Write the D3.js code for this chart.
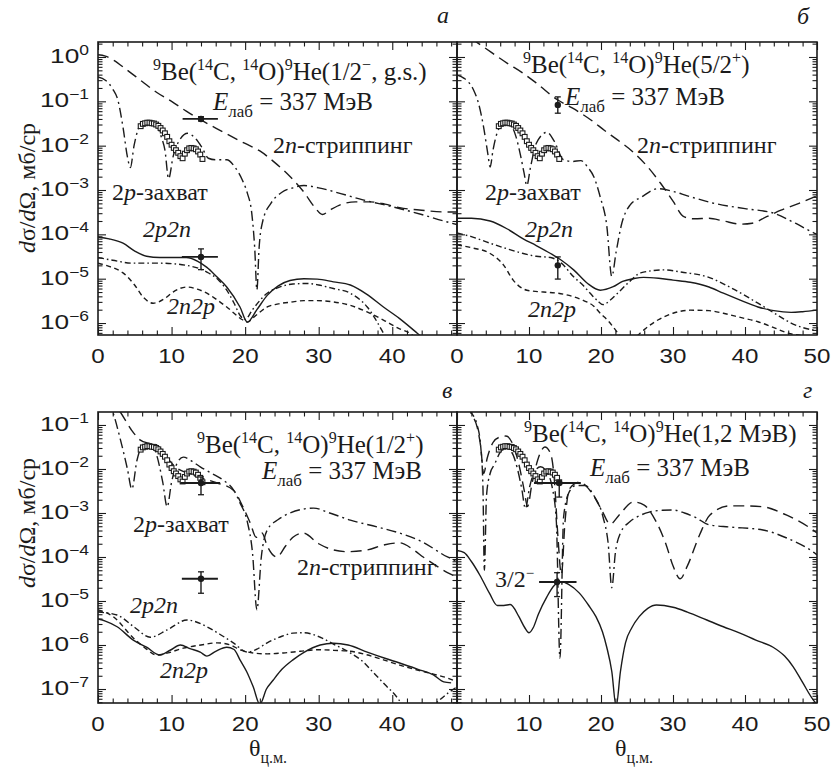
<!DOCTYPE html>
<html><head><meta charset="utf-8">
<script src="https://cdn.jsdelivr.net/npm/d3@7"></script>
<style>
body{margin:0;background:#fff}
svg{display:block}
.serif{font-family:"Liberation Serif","Tinos","DejaVu Serif","Noto Serif",serif}
.sans{font-family:"Liberation Sans","Arimo","DejaVu Sans",sans-serif}
</style></head><body>
<svg id="chart" width="832" height="771"></svg>
<script>
// ================= DATA =================
// experimental angular distribution (open squares), same in all panels
const expTheta = [5.8, 6.1, 6.4, 6.7, 7.0, 7.3, 7.6, 7.9, 8.2, 8.5, 8.8, 9.1, 9.4, 9.7, 10.0, 10.3, 10.6, 10.9, 11.2, 11.5, 11.8, 12.1, 12.4, 12.7, 13.0, 13.3, 13.6, 13.9, 14.2];
const expSigma = [0.0275, 0.031, 0.032, 0.033, 0.033, 0.032, 0.0316, 0.030, 0.028, 0.025, 0.022, 0.019, 0.0158, 0.0126, 0.0105, 0.0089, 0.0079, 0.0069, 0.0058, 0.0052, 0.0066, 0.0079, 0.0087, 0.0089, 0.0087, 0.0083, 0.0074, 0.0063, 0.0050];

// filled points with error bars
const ptPanel = ['a', 'a', 'b', 'b', 'c', 'c', 'd', 'd'];
const ptTheta = [14, 14, 14, 14, 14, 14, 14.2, 13.9];
const ptSigma = [0.040, 3.1e-5, 0.083, 2.0e-5, 0.0048, 3.2e-5, 0.0048, 2.7e-5];
const ptThetaLo = [11.5, 11.4, null, null, 11.2, 11.4, 10.7, 11.4];
const ptThetaHi = [16.3, 16.3, null, null, 16.6, 16.3, 17.2, 16.6];
const ptSigmaLo = [0.036, 1.6e-5, 0.054, 9.8e-6, 0.0026, 1.5e-5, 0.0023, 1.26e-5];
const ptSigmaHi = [0.045, 4.7e-5, 0.126, 3.1e-5, 0.0066, 4.6e-5, 0.0048, 4.4e-5];

// ---- panel a : 9He(1/2-, g.s.) ----
const aStripTheta = [0, 1, 2, 4, 6, 8, 10, 12, 14, 16, 18, 20, 22, 24, 26, 28, 29.5, 30.5, 31.5, 33, 35, 37, 39, 41, 44, 47, 48.8];
const aStripSigma = [1.12, 1.05, 0.87, 0.50, 0.28, 0.158, 0.10, 0.060, 0.038, 0.025, 0.0166, 0.0112, 0.0076, 0.0042, 0.0021, 8.9e-4, 4.0e-4, 2.8e-4, 3.5e-4, 4.7e-4, 5.4e-4, 5.4e-4, 4.8e-4, 4.0e-4, 3.5e-4, 3.2e-4, 3.2e-4];
const aCaptTheta = [0, 1, 2, 2.7, 3.4, 4.0, 4.4, 4.9, 5.4, 6.0, 7.0, 8.0, 8.6, 9.1, 9.6, 10.2, 11.0, 12.2, 13.2, 14.1, 15.0, 16.0, 17.5, 18.6, 19.6, 20.3, 20.9, 21.3, 21.6, 21.9, 22.4, 23.5, 25, 26.5, 28, 30, 33, 36, 40, 44, 47, 48.8];
const aCaptSigma = [0.355, 0.30, 0.19, 0.107, 0.026, 0.0056, 0.0032, 0.010, 0.022, 0.032, 0.035, 0.028, 0.0158, 0.0079, 0.0018, 0.0056, 0.0126, 0.019, 0.0148, 0.0093, 0.0052, 0.0048, 0.0048, 0.0033, 0.0017, 8.5e-4, 3.0e-4, 5.0e-5, 5.6e-6, 5.0e-5, 2.0e-4, 5.0e-4, 8.9e-4, 1.12e-3, 1.26e-3, 1.12e-3, 8.3e-4, 6.0e-4, 4.2e-4, 2.8e-4, 2.0e-4, 1.66e-4];
const aSumTheta = [0, 1.5, 3.4, 5, 6.6, 8.4, 10, 12, 13.5, 14.8, 16, 17.5, 19.3, 20.3, 21.6, 23, 24.5, 26.1, 28, 29.8, 32, 34.3, 36.5, 38.8, 41, 43.4, 45, 47];
const aSumSigma = [8.7e-5, 7.9e-5, 6.3e-5, 4.2e-5, 3.2e-5, 3.0e-5, 3.0e-5, 3.0e-5, 2.5e-5, 1.8e-5, 1.17e-5, 6.5e-6, 2.3e-6, 1.05e-6, 2.0e-6, 4.2e-6, 6.9e-6, 9.1e-6, 1.0e-5, 9.8e-6, 8.5e-6, 7.2e-6, 4.5e-6, 2.3e-6, 1.26e-6, 5.9e-7, 3.5e-7, 2.0e-7];
const aP2nTheta = [0, 2, 4.8, 8.4, 12, 14.8, 16.5, 17.5, 18.5, 19.3, 20.0, 21, 23, 24.5, 26.5, 28.5, 30, 32, 34.3, 36.6, 38.8, 40];
const aP2nSigma = [3.0e-5, 2.6e-5, 2.24e-5, 2.24e-5, 2.0e-5, 1.41e-5, 8.9e-6, 5.5e-6, 2.8e-6, 1.5e-6, 1.2e-6, 2.0e-6, 4.7e-6, 6.3e-6, 7.6e-6, 7.8e-6, 7.2e-6, 6.0e-6, 4.7e-6, 2.3e-6, 5.9e-7, 2.5e-7];
const aN2pTheta = [0, 1.5, 3.4, 5, 6.1, 7.5, 9, 10.2, 12.1, 13.5, 14.8, 16, 17.5, 19.7, 20.3, 21.3, 23, 24.5, 26.5, 28, 29.8, 32, 34.3, 36.5, 38.8, 41, 42.4, 43.5];
const aN2pSigma = [2.24e-5, 1.9e-5, 1.35e-5, 7.1e-6, 3.9e-6, 2.8e-6, 3.5e-6, 5.0e-6, 6.5e-6, 5.8e-6, 4.7e-6, 3.5e-6, 2.3e-6, 1.17e-6, 1.05e-6, 1.41e-6, 2.3e-6, 2.7e-6, 3.0e-6, 3.2e-6, 3.2e-6, 3.0e-6, 2.5e-6, 1.8e-6, 1.17e-6, 7.4e-7, 5.9e-7, 4.0e-7];

// ---- panel b : 9He(5/2+) ----
const bStripTheta = [0, 2, 4, 7, 9, 11, 14, 16, 18.6, 20.5, 22.3, 24.5, 26.5, 28.3, 30, 31.5, 33, 35, 37, 39.5, 41, 43, 45, 47.5, 50];
const bStripSigma = [4.3, 2.6, 1.55, 0.72, 0.45, 0.26, 0.107, 0.071, 0.038, 0.022, 0.0135, 0.0071, 0.0033, 0.0014, 5.6e-4, 2.5e-4, 2.24e-4, 2.3e-4, 2.0e-4, 1.7e-4, 1.78e-4, 2.5e-4, 3.5e-4, 5.0e-4, 7.4e-4];
const bCaptTheta = [0, 1, 2.3, 3.0, 3.7, 4.3, 4.6, 5.0, 5.6, 6.4, 7.5, 8.2, 8.8, 9.3, 9.7, 10.2, 11, 12.5, 13.5, 14.8, 16, 17.2, 18.2, 19, 19.9, 20.8, 21.5, 22.1, 22.9, 24, 25.6, 27.9, 30, 32, 35.5, 40, 44, 47, 49.6, 50];
const bCaptSigma = [0.39, 0.33, 0.18, 0.089, 0.026, 0.0063, 0.0033, 0.0079, 0.020, 0.030, 0.028, 0.0158, 0.0063, 0.0025, 0.00126, 0.0032, 0.0112, 0.020, 0.0126, 0.0048, 0.0044, 0.0046, 0.0032, 0.0020, 6.9e-4, 1.58e-4, 1.12e-5, 4.0e-5, 1.8e-4, 4.5e-4, 6.9e-4, 1.07e-3, 9.3e-4, 7.4e-4, 5.1e-4, 3.8e-4, 3.0e-4, 1.78e-4, 1.07e-4, 1.0e-4];
const bSumTheta = [0, 2, 4.6, 7, 9.2, 11, 13, 14.5, 16.2, 18.1, 19.9, 21.7, 23, 24.5, 25.9, 28, 30, 32.4, 35, 37, 39.5, 41.8, 44, 46.4, 48, 50];
const bSumSigma = [2.3e-4, 2.3e-4, 2.0e-4, 1.32e-4, 7.9e-5, 5.6e-5, 3.7e-5, 2.6e-5, 1.58e-5, 7.9e-6, 5.5e-6, 6.6e-6, 8.7e-6, 1.0e-5, 1.07e-5, 1.02e-5, 9.3e-6, 8.3e-6, 6.5e-6, 4.7e-6, 3.2e-6, 2.3e-6, 1.9e-6, 1.74e-6, 1.8e-6, 1.95e-6];
const bP2nTheta = [0, 2, 4.6, 7, 9.2, 11, 13, 14.5, 16.2, 17.5, 18.5, 19.5, 20.3, 21.3, 22.3, 24, 25.5, 28.7, 31.5, 34.8, 38, 41.8, 44, 46.4, 48, 49.6];
const bP2nSigma = [1.07e-4, 8.9e-5, 6.3e-5, 4.7e-5, 3.7e-5, 3.2e-5, 3.0e-5, 2.24e-5, 1.1e-5, 7.1e-6, 4.7e-6, 3.2e-6, 2.6e-6, 3.3e-6, 4.7e-6, 8.7e-6, 1.35e-5, 1.58e-5, 1.38e-5, 1.1e-5, 6.3e-6, 2.8e-6, 1.7e-6, 1.0e-6, 7.9e-7, 6.9e-7];
const bN2pTheta = [0, 2, 4.6, 6.5, 7.8, 9.7, 12, 14, 16, 17.6, 19, 19.9, 21, 21.7, 22.7, 23.5, 24.3, 25, 26, 27.9, 30, 32.4, 35, 37, 39.5, 41.8, 44, 46, 48, 50];
const bN2pSigma = [5.8e-5, 5.0e-5, 3.7e-5, 2.0e-5, 9.3e-6, 5.5e-6, 5.0e-6, 4.7e-6, 4.0e-6, 3.2e-6, 2.4e-6, 1.66e-6, 1.12e-6, 8.1e-7, 5.0e-7, 3.5e-7, 3.5e-7, 5.0e-7, 7.1e-7, 1.17e-6, 1.66e-6, 1.95e-6, 1.9e-6, 1.66e-6, 1.32e-6, 1.07e-6, 7.9e-7, 5.9e-7, 5.2e-7, 5.0e-7];

// ---- panel c : 9He(1/2+) ----
const cStripTheta = [0, 1, 2, 3, 4.5, 5.7, 7, 8, 9.4, 10.5, 12.1, 14, 16.2, 18.4, 19.7, 20.7, 21.5, 22.3, 23, 24.3, 25.5, 26.5, 27.9, 30, 32, 34, 36.6, 39, 41, 43, 44.2, 46, 47.5, 48.8];
const cStripSigma = [0.79, 0.50, 0.316, 0.20, 0.079, 0.046, 0.038, 0.035, 0.0178, 0.0112, 0.0081, 0.0063, 0.0048, 0.0033, 0.00138, 5.9e-4, 2.8e-4, 3.5e-4, 1.78e-4, 1.0e-4, 1.78e-4, 2.8e-4, 3.5e-4, 2.0e-4, 1.45e-4, 1.32e-4, 1.45e-4, 1.9e-4, 2.1e-4, 1.41e-4, 1.0e-4, 6.3e-5, 4.4e-5, 3.5e-5];
const cCaptTheta = [0, 1, 2, 3, 4, 4.6, 5.3, 6.1, 7, 8, 8.8, 9.4, 10, 10.8, 11.6, 13, 13.9, 15.5, 17, 18.5, 19.3, 20.3, 21, 21.6, 22.2, 23, 24.5, 26.1, 29.3, 31.5, 34.3, 38, 41, 44, 47.5, 48.8];
const cCaptSigma = [0.89, 0.45, 0.20, 0.050, 0.010, 0.0035, 0.0158, 0.035, 0.038, 0.020, 0.0050, 0.00138, 0.0050, 0.0141, 0.0186, 0.0141, 0.0112, 0.0079, 0.0056, 0.0032, 0.0017, 6.3e-4, 1.26e-4, 6.3e-6, 1.0e-4, 4.1e-4, 7.1e-4, 1.0e-3, 1.29e-3, 1.0e-3, 6.9e-4, 4.8e-4, 3.5e-4, 2.24e-4, 1.0e-4, 7.9e-5];
const cSumTheta = [0, 1, 2.6, 4.8, 6.6, 8.4, 9.8, 11.2, 12.5, 13.9, 14.8, 16, 17.5, 18.5, 19.3, 20.2, 21.1, 22, 22.9, 23.8, 25, 26.5, 28, 30.2, 32, 34, 36.6, 39, 41, 43.5, 45.6, 47, 48];
const cSumSigma = [3.9e-6, 3.5e-6, 2.6e-6, 1.29e-6, 8.9e-7, 5.9e-7, 7.6e-7, 1.0e-6, 8.3e-7, 6.9e-7, 5.6e-7, 7.2e-7, 8.9e-7, 7.9e-7, 4.6e-7, 2.5e-7, 1.12e-7, 4.5e-8, 1.0e-7, 1.58e-7, 2.8e-7, 4.6e-7, 6.8e-7, 1.0e-6, 1.1e-6, 1.0e-6, 6.9e-7, 5.0e-7, 3.9e-7, 2.8e-7, 2.1e-7, 1.45e-7, 1.38e-7];
const cP2nTheta = [0, 2.6, 5, 7.1, 9.4, 12.1, 14.8, 16.5, 18.4, 20.3, 21.5, 23, 25, 26.5, 28, 30.2, 32, 34.3, 36, 37.5, 39, 40.7, 41.5, 43, 45, 46, 47.5, 48.8];
const cP2nSigma = [5.6e-6, 4.8e-6, 2.5e-6, 1.5e-6, 2.2e-6, 3.7e-6, 2.6e-6, 1.78e-6, 1.12e-6, 6.9e-7, 7.9e-7, 1.12e-6, 1.58e-6, 1.86e-6, 1.9e-6, 1.5e-6, 1.05e-6, 6.6e-7, 4.2e-7, 2.3e-7, 1.26e-7, 6.3e-8, 4.0e-8, 2.0e-8, 3.2e-8, 4.8e-8, 7.9e-8, 1.12e-7];
const cN2pTheta = [0, 2, 4.8, 6.5, 8, 9.5, 11.6, 14, 16.2, 18, 19.3, 21.1, 23, 25.2, 27.5, 29.8, 32, 34.3, 36.5, 38.8, 41, 43.4, 45.5, 47.5, 48.3];
const cN2pSigma = [6.3e-6, 4.5e-6, 1.45e-6, 8.3e-7, 5.9e-7, 6.6e-7, 8.5e-7, 1.0e-6, 1.12e-6, 1.0e-6, 7.8e-7, 6.6e-7, 6.3e-7, 6.6e-7, 7.2e-7, 7.8e-7, 7.6e-7, 7.2e-7, 6.0e-7, 4.6e-7, 3.5e-7, 2.7e-7, 2.2e-7, 1.78e-7, 1.58e-7];

// ---- panel d : 9He(1,2 MeV) ----
const dStripTheta = [0, 1, 2, 2.8, 3.3, 3.7, 4.2, 5.0, 5.8, 6.8, 7.8, 8.6, 9.3, 9.8, 10.4, 11.2, 12.2, 13.0, 13.5, 14.0, 14.5, 15.0, 15.6, 17, 18.5, 20, 21.3, 22.5, 24.5, 26, 27.5, 29, 30, 31, 32, 33.7, 35.1, 37.9, 40, 42.5, 45.8, 49, 50];
const dStripSigma = [0.63, 0.40, 0.178, 0.089, 0.0316, 0.0079, 0.0178, 0.040, 0.052, 0.056, 0.035, 0.0126, 0.0035, 0.0014, 0.0045, 0.0158, 0.0316, 0.0224, 0.0063, 3.2e-4, 4.0e-5, 6.3e-4, 0.0035, 0.0050, 0.0032, 0.00126, 5.6e-4, 8.9e-4, 0.00178, 0.00151, 7.1e-4, 2.0e-4, 6.3e-5, 3.2e-5, 6.3e-5, 3.2e-4, 8.9e-4, 0.00145, 0.00145, 0.00138, 8.9e-4, 4.6e-4, 3.5e-4];
const dCaptTheta = [0, 1, 2, 2.8, 3.3, 3.6, 3.8, 4.1, 4.6, 5.2, 6.0, 6.8, 7.6, 8.4, 9.0, 9.5, 10.1, 10.8, 11.6, 12.4, 13.2, 13.8, 14.3, 14.8, 15.5, 16.5, 17.8, 19, 20.3, 21.0, 21.5, 22.0, 22.7, 24, 25.5, 26.7, 28.5, 30, 31.6, 33.2, 35, 37.9, 42.5, 45.8, 49.5, 50];
const dCaptSigma = [0.56, 0.355, 0.19, 0.10, 0.0316, 0.0040, 5.0e-5, 0.0025, 0.0079, 0.0126, 0.024, 0.030, 0.024, 0.010, 0.0035, 0.00126, 0.0040, 0.0089, 0.0112, 0.0089, 0.0040, 6.3e-4, 5.0e-7, 7.9e-4, 0.0028, 0.0042, 0.0042, 0.0025, 7.9e-4, 2.0e-4, 2.0e-5, 1.26e-4, 3.5e-4, 6.3e-4, 8.9e-4, 1.05e-3, 1.15e-3, 1.17e-3, 1.0e-3, 7.8e-4, 5.4e-4, 4.8e-4, 4.1e-4, 2.7e-4, 1.29e-4, 1.12e-4];
const dSumTheta = [0, 1, 2, 3.2, 4.5, 5.6, 6.5, 7.4, 8.6, 9.4, 10, 10.6, 11.3, 12.5, 13.5, 14.5, 15.5, 17, 18.3, 19.3, 20.2, 20.8, 21.5, 22.1, 22.7, 23.4, 24.3, 25.3, 26.5, 27.7, 30, 32, 34.7, 37, 39.3, 41.5, 43.9, 45.5, 46.7, 48, 49.5, 50];
const dSumSigma = [1.41e-4, 1.26e-4, 7.9e-5, 3.8e-5, 1.51e-5, 7.9e-6, 7.9e-6, 8.3e-6, 4.4e-6, 2.5e-6, 1.9e-6, 2.5e-6, 5.0e-6, 1.26e-5, 2.24e-5, 2.75e-5, 2.4e-5, 1.51e-5, 7.9e-6, 4.4e-6, 2.0e-6, 8.9e-7, 2.5e-7, 4.0e-8, 2.5e-7, 1.12e-6, 2.5e-6, 4.4e-6, 6.8e-6, 8.1e-6, 7.2e-6, 5.6e-6, 3.7e-6, 2.6e-6, 1.86e-6, 1.29e-6, 8.9e-7, 5.6e-7, 3.2e-7, 1.41e-7, 5.6e-8, 4.5e-8];

// tick labels
const xTickLabels = ["0", "10", "20", "30", "40", "50"];
const yTopExponents = ["0", "−1", "−2", "−3", "−4", "−5", "−6"];
const yBottomExponents = ["−1", "−2", "−3", "−4", "−5", "−6", "−7"];

// ================= LAYOUT =================
const svg = d3.select("#chart");
const INK = "#1b1b1b";

const styles = {
  strip: "11,6",
  capt: "10,4,2,4",
  sum: null,
  p2n: "6,3,1.6,3",
  n2p: "5,3.5"
};

const panels = [
  {key: 'a', x0: 98, x1: 457, y0: 42, y1: 335, tmax: 48.8, lmin: -6.27, lmax: 0.338, yLabels: true, exps: yTopExponents, decStart: 0,
   curves: [[aStripTheta, aStripSigma, 'strip'], [aCaptTheta, aCaptSigma, 'capt'], [aSumTheta, aSumSigma, 'sum'], [aP2nTheta, aP2nSigma, 'p2n'], [aN2pTheta, aN2pSigma, 'n2p']]},
  {key: 'b', x0: 457, x1: 817, y0: 42, y1: 335, tmax: 50, lmin: -6.27, lmax: 0.338, yLabels: false,
   curves: [[bStripTheta, bStripSigma, 'strip'], [bCaptTheta, bCaptSigma, 'capt'], [bSumTheta, bSumSigma, 'sum'], [bP2nTheta, bP2nSigma, 'p2n'], [bN2pTheta, bN2pSigma, 'n2p']]},
  {key: 'c', x0: 98, x1: 457, y0: 412, y1: 703, tmax: 48.8, lmin: -7.318, lmax: -0.705, yLabels: true, exps: yBottomExponents, decStart: -1,
   curves: [[cStripTheta, cStripSigma, 'strip'], [cCaptTheta, cCaptSigma, 'capt'], [cSumTheta, cSumSigma, 'sum'], [cP2nTheta, cP2nSigma, 'p2n'], [cN2pTheta, cN2pSigma, 'n2p']]},
  {key: 'd', x0: 457, x1: 817, y0: 412, y1: 703, tmax: 50, lmin: -7.318, lmax: -0.705, yLabels: false,
   curves: [[dStripTheta, dStripSigma, 'strip'], [dCaptTheta, dCaptSigma, 'capt'], [dSumTheta, dSumSigma, 'sum']]}
];

// rich text helper: segs = [[text, mode]] ; modes n,i,sup,sub
function rich(parent, x, y, segs, size, opts = {}) {
  const t = parent.append("text").attr("class", "serif").attr("x", x).attr("y", y)
    .attr("font-size", size).attr("fill", INK)
    .attr("text-anchor", opts.anchor || "start");
  if (opts.italic) t.attr("font-style", "italic");
  if (opts.transform) t.attr("transform", opts.transform);
  let shift = 0;
  segs.forEach(([txt, mode]) => {
    const s = t.append("tspan").text(txt);
    let target = 0;
    if (mode === 'sup') { target = -Math.round(size * 0.38); s.attr("font-size", Math.round(size * 0.64)); }
    else if (mode === 'sub') { target = Math.round(size * 0.28); s.attr("font-size", Math.round(size * 0.66)); }
    if (mode === 'i') s.attr("font-style", "italic");
    if (target - shift !== 0) s.attr("dy", target - shift);
    shift = target;
  });
  return t;
}

const defs = svg.append("defs");

panels.forEach(p => {
  const x = d3.scaleLinear().domain([0, p.tmax]).range([p.x0, p.x1]);
  const y = d3.scaleLog().domain([Math.pow(10, p.lmin), Math.pow(10, p.lmax)]).range([p.y1, p.y0]);
  const g = svg.append("g");

  defs.append("clipPath").attr("id", "clip-" + p.key)
    .append("rect").attr("x", p.x0).attr("y", p.y0).attr("width", p.x1 - p.x0).attr("height", p.y1 - p.y0);

  // ticks
  const majX = d3.range(0, p.tmax + 0.01, 10);
  const minX = d3.range(0, p.tmax + 0.01, 2).filter(v => v % 10 !== 0);
  const decs = d3.range(Math.ceil(p.lmin), Math.floor(p.lmax) + 1).map(e => Math.pow(10, e));
  const minY = [];
  d3.range(Math.floor(p.lmin), Math.ceil(p.lmax) + 1).forEach(e => {
    for (let k = 2; k <= 9; k++) { const v = k * Math.pow(10, e); if (v > y.domain()[0] && v < y.domain()[1]) minY.push(v); }
  });
  const tickAxes = [
    [d3.axisBottom(x).tickValues(majX).tickSize(-8), `translate(0,${p.y1})`],
    [d3.axisBottom(x).tickValues(minX).tickSize(-4.5), `translate(0,${p.y1})`],
    [d3.axisTop(x).tickValues(majX).tickSize(-8), `translate(0,${p.y0})`],
    [d3.axisTop(x).tickValues(minX).tickSize(-4.5), `translate(0,${p.y0})`],
    [d3.axisLeft(y).tickValues(decs).tickSize(-8), `translate(${p.x0},0)`],
    [d3.axisLeft(y).tickValues(minY).tickSize(-4.5), `translate(${p.x0},0)`],
    [d3.axisRight(y).tickValues(decs).tickSize(-8), `translate(${p.x1},0)`],
    [d3.axisRight(y).tickValues(minY).tickSize(-4.5), `translate(${p.x1},0)`]
  ];
  tickAxes.forEach(([ax, tr]) => {
    const a = g.append("g").attr("transform", tr).call(ax.tickFormat("").tickSizeOuter(0));
    a.select(".domain").remove();
    a.selectAll("line").attr("stroke", INK).attr("stroke-width", 1.1);
  });
  g.append("rect").attr("x", p.x0).attr("y", p.y0).attr("width", p.x1 - p.x0).attr("height", p.y1 - p.y0)
    .attr("fill", "none").attr("stroke", INK).attr("stroke-width", 1.6);

  // x tick labels
  majX.forEach((v, i) => {
    svg.append("text").attr("class", "sans").attr("transform", `translate(${x(v)},${p.y1 + 28}) scale(1.15,1)`)
      .attr("text-anchor", "middle").attr("font-size", 21).attr("fill", INK)
      .text(xTickLabels[i]);
  });
  // y tick labels
  if (p.yLabels) {
    p.exps.forEach((ex, i) => {
      const val = Math.pow(10, p.decStart - i);
      const t = svg.append("text").attr("class", "sans").attr("transform", `translate(89,${y(val) + 6}) scale(1.25,1)`)
        .attr("text-anchor", "end").attr("font-size", 21).attr("fill", INK);
      t.append("tspan").text("10");
      t.append("tspan").attr("dy", -8).attr("font-size", 14).text(ex);
    });
  }

  // curves
  const cg = g.append("g").attr("clip-path", `url(#clip-${p.key})`);
  const line = d3.line().x(d => x(d[0])).y(d => y(d[1])).curve(d3.curveMonotoneX);
  p.curves.forEach(([th, sg, st]) => {
    const pts = th.map((t, i) => [t, sg[i]]);
    cg.append("path").attr("d", line(pts)).attr("fill", "none").attr("stroke", INK)
      .attr("stroke-width", 1.4).attr("stroke-dasharray", styles[st]);
  });

  // experimental points
  cg.selectAll("rect.exp").data(expTheta.map((t, i) => [t, expSigma[i]])).join("rect")
    .attr("class", "exp").attr("x", d => x(d[0]) - 2.4).attr("y", d => y(d[1]) - 2.4)
    .attr("width", 4.8).attr("height", 4.8).attr("fill", "#fff").attr("stroke", INK).attr("stroke-width", 1.1);

  // filled points with error bars
  ptPanel.forEach((pk, i) => {
    if (pk !== p.key) return;
    const px = x(ptTheta[i]), py = y(ptSigma[i]);
    if (ptThetaLo[i] !== null) {
      cg.append("line").attr("x1", x(ptThetaLo[i])).attr("x2", x(ptThetaHi[i])).attr("y1", py).attr("y2", py)
        .attr("stroke", INK).attr("stroke-width", 1.8);
    }
    cg.append("line").attr("x1", px).attr("x2", px).attr("y1", y(ptSigmaLo[i])).attr("y2", y(ptSigmaHi[i]))
      .attr("stroke", INK).attr("stroke-width", 1.4);
    [ptSigmaLo[i], ptSigmaHi[i]].forEach(v => {
      cg.append("line").attr("x1", px - 3).attr("x2", px + 3).attr("y1", y(v)).attr("y2", y(v))
        .attr("stroke", INK).attr("stroke-width", 1.3);
    });
    cg.append("circle").attr("cx", px).attr("cy", py).attr("r", 3.2).attr("fill", INK);
  });
});

// ================= TEXT =================
const T = 25, L = 24;
// panel a
rich(svg, 153, 80, [["9", "sup"], ["Be(", "n"], ["14", "sup"], ["C, ", "n"], ["14", "sup"], ["O)", "n"], ["9", "sup"], ["He(1/2", "n"], ["−", "sup"], [", g.s.)", "n"]], T);
rich(svg, 213, 110, [["E", "i"], ["лаб", "sub"], [" = 337 МэВ", "n"]], T);
rich(svg, 273, 153, [["2", "n"], ["n", "i"], ["-стриппинг", "n"]], L);
rich(svg, 112, 200, [["2", "n"], ["p", "i"], ["-захват", "n"]], L);
rich(svg, 143, 237, [["2p2n", "i"]], L);
rich(svg, 167, 314, [["2n2p", "i"]], L);
// panel b
rich(svg, 523, 73, [["9", "sup"], ["Be(", "n"], ["14", "sup"], ["C, ", "n"], ["14", "sup"], ["O)", "n"], ["9", "sup"], ["He(5/2", "n"], ["+", "sup"], [")", "n"]], T);
rich(svg, 565, 105, [["E", "i"], ["лаб", "sub"], [" = 337 МэВ", "n"]], T);
rich(svg, 637, 153, [["2", "n"], ["n", "i"], ["-стриппинг", "n"]], L);
rich(svg, 485, 200, [["2", "n"], ["p", "i"], ["-захват", "n"]], L);
rich(svg, 525, 237, [["2p2n", "i"]], L);
rich(svg, 528, 317, [["2n2p", "i"]], L);
// panel c
rich(svg, 197, 453, [["9", "sup"], ["Be(", "n"], ["14", "sup"], ["C, ", "n"], ["14", "sup"], ["O)", "n"], ["9", "sup"], ["He(1/2", "n"], ["+", "sup"], [")", "n"]], T);
rich(svg, 262, 479, [["E", "i"], ["лаб", "sub"], [" = 337 МэВ", "n"]], T);
rich(svg, 133, 532, [["2", "n"], ["p", "i"], ["-захват", "n"]], L);
rich(svg, 297, 575, [["2", "n"], ["n", "i"], ["-стриппинг", "n"]], L);
rich(svg, 130, 613, [["2p2n", "i"]], L);
rich(svg, 160, 678, [["2n2p", "i"]], L);
// panel d
rich(svg, 524, 442, [["9", "sup"], ["Be(", "n"], ["14", "sup"], ["C, ", "n"], ["14", "sup"], ["O)", "n"], ["9", "sup"], ["He(1,2 МэВ)", "n"]], T);
rich(svg, 590, 476, [["E", "i"], ["лаб", "sub"], [" = 337 МэВ", "n"]], T);
rich(svg, 495, 587, [["3/2", "n"], ["−", "sup"]], L);

// panel letters
[["а", 437, 23], ["б", 797, 24], ["в", 442, 398], ["г", 803, 398]].forEach(([s, xx, yy]) => {
  svg.append("text").attr("class", "serif").attr("x", xx).attr("y", yy).attr("font-style", "italic")
    .attr("font-size", 24).attr("fill", INK).text(s);
});

// axis titles
[188, 523].forEach(cy => {
  rich(svg, 0, 0, [["d", "i"], ["σ", "n"], ["/", "n"], ["d", "i"], ["Ω", "n"], [", мб/ср", "n"]], 24,
    {anchor: "middle", transform: `translate(35,${cy}) rotate(-90)`});
});
rich(svg, 268, 756, [["θ", "n"], ["ц.м.", "sub"]], 24, {anchor: "middle"});
rich(svg, 634, 756, [["θ", "n"], ["ц.м.", "sub"]], 24, {anchor: "middle"});
</script>
</body></html>
